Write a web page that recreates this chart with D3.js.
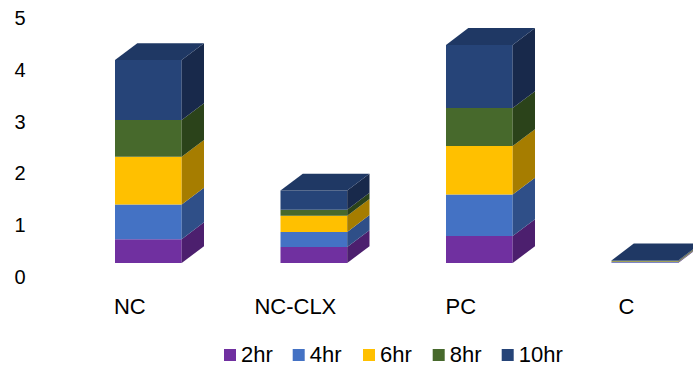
<!DOCTYPE html>
<html>
<head>
<meta charset="utf-8">
<script src="https://cdn.jsdelivr.net/npm/d3@7"></script>
<style>
  html, body { margin: 0; padding: 0; background: #fff; }
  svg { display: block; }
  text { font-family: "Liberation Sans", Arial, sans-serif; fill: #000; }
</style>
</head>
<body>
<svg id="chart" width="693" height="367"></svg>
<script>
// Stacked 3D column chart: release over time per formulation
const categories = ["NC", "NC-CLX", "PC", "C"];
const seriesNames = ["2hr", "4hr", "6hr", "8hr", "10hr"];
const values2hr  = [0.46, 0.31, 0.52, 0.01];
const values4hr  = [0.67, 0.29, 0.80, 0.01];
const values6hr  = [0.92, 0.31, 0.94, 0.01];
const values8hr  = [0.71, 0.12, 0.73, 0.01];
const values10hr = [1.16, 0.37, 1.22, 0.01];
const yTicks = [0, 1, 2, 3, 4, 5];

const frontColors = ["#7030A0", "#4472C4", "#FFC000", "#47692C", "#264478"];
const sideColors  = ["#4C1F6E", "#2F4F88", "#A67D00", "#2B431A", "#18294B"];
const topColors   = ["#5A2683", "#375C9E", "#CC9A00", "#36531F", "#1F3864"];

const seriesValues = [values2hr, values4hr, values6hr, values8hr, values10hr];
const rows = categories.map((c, i) => {
  const r = { category: c };
  seriesNames.forEach((s, k) => { r[s] = seriesValues[k][i]; });
  return r;
});
const stacked = d3.stack().keys(seriesNames)(rows);

const svg = d3.select("#chart");

// oblique depth of each column and offset of the floor's front edge
const depth = { dx: 22.3, dy: -16.8 };
const floorShift = { dx: -18.5, dy: 14 };

const x = d3.scaleBand()
  .domain(categories)
  .range([65.6, 727.6])
  .paddingInner(0.597)
  .paddingOuter(0.2985);

const y = d3.scaleLinear().domain([0, 5]).range([263, 4]);

const poly = pts => pts.map(p => p.join(",")).join(" ");

const bars = svg.append("g").attr("class", "bars");

categories.forEach((cat, ci) => {
  const g = bars.append("g").attr("class", "column");
  const xl = x(cat), xr = x(cat) + x.bandwidth();
  stacked.forEach((layer, k) => {
    const d = layer[ci];
    const y0 = y(d[0]), y1 = y(d[1]);
    // front face
    g.append("polygon")
      .attr("points", poly([[xl, y0], [xr, y0], [xr, y1], [xl, y1]]))
      .attr("fill", frontColors[k]);
    // right side face
    g.append("polygon")
      .attr("points", poly([[xr, y0], [xr + depth.dx, y0 + depth.dy],
                            [xr + depth.dx, y1 + depth.dy], [xr, y1]]))
      .attr("fill", sideColors[k]);
    // top face of the whole stack
    if (k === stacked.length - 1) {
      g.append("polygon")
        .attr("points", poly([[xl, y1], [xl + depth.dx, y1 + depth.dy],
                              [xr + depth.dx, y1 + depth.dy], [xr, y1]]))
        .attr("fill", topColors[k]);
    }
  });
});

// value axis labels along the front edge of the floor
svg.append("g").attr("class", "y-labels")
  .selectAll("text")
  .data(yTicks)
  .join("text")
  .attr("x", 20)
  .attr("y", v => y(v) + floorShift.dy)
  .attr("dy", "0.35em")
  .attr("text-anchor", "middle")
  .style("font-size", "20px")
  .text(v => v);

// category labels
svg.append("g").attr("class", "x-labels")
  .selectAll("text")
  .data(categories)
  .join("text")
  .attr("x", c => x(c) + x.bandwidth() / 2 + floorShift.dx)
  .attr("y", 313.5)
  .attr("text-anchor", "middle")
  .style("font-size", "22px")
  .text(c => c);

// legend
const legendX = [224, 292.7, 363, 432.7, 501.7];
const legend = svg.append("g").attr("class", "legend");
seriesNames.forEach((s, k) => {
  legend.append("rect")
    .attr("x", legendX[k]).attr("y", 349)
    .attr("width", 12).attr("height", 12)
    .attr("fill", frontColors[k]);
  legend.append("text")
    .attr("x", legendX[k] + 17).attr("y", 362)
    .style("font-size", "22px")
    .text(s);
});
</script>
</body>
</html>
